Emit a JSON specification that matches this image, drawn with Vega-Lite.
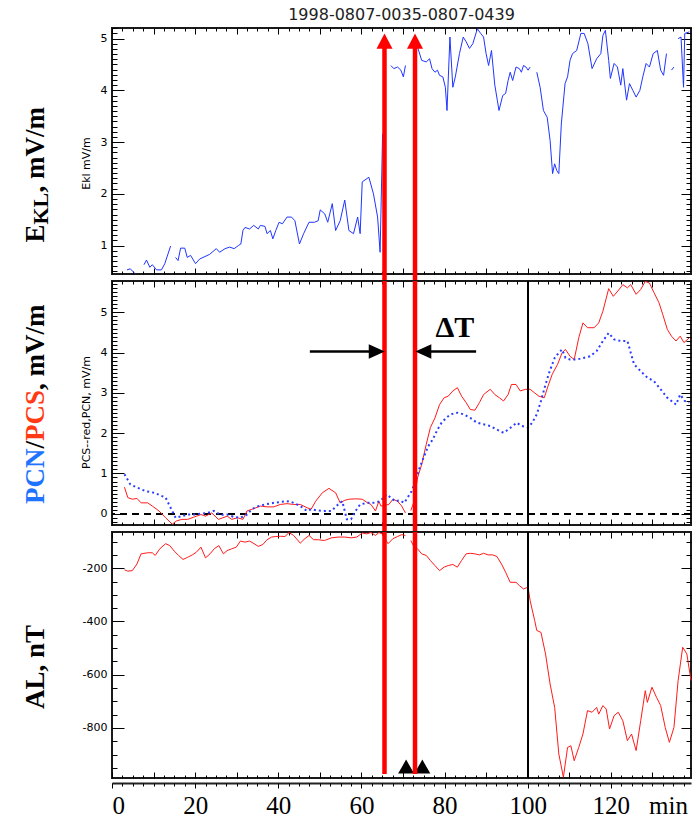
{
"$schema": "https://vega.github.io/schema/vega-lite/v6.json",
"background": "white",
"padding": {"left": 19, "top": 5, "right": 0, "bottom": 0},
"autosize": {"type": "pad"},
"spacing": 7,
"bounds": "flush",
"config": {
  "view": {"stroke": "#1a1a1a", "strokeWidth": 2},
  "axis": {"grid": false, "domain": false, "tickColor": "#000", "tickWidth": 1, "labelColor": "#000", "titleColor": "#000", "labelFont": "DejaVu Sans", "labelFontSize": 11}
},
"datasets": {
  "ekl": [
    {"t":3.6,"v":0.53,"seg":1},{"t":4.4,"v":0.55,"seg":1},{"t":5.5,"v":0.46,"seg":1},
    {"t":7.7,"v":0.63,"seg":2},{"t":8.3,"v":0.72,"seg":2},{"t":9.1,"v":0.58,"seg":2},{"t":9.7,"v":0.63,"seg":2},{"t":10.7,"v":0.53,"seg":2},{"t":11.9,"v":0.53,"seg":2},{"t":12.7,"v":0.65,"seg":2},{"t":14.1,"v":0.99,"seg":2},
    {"t":15.3,"v":0.77,"seg":3},{"t":15.9,"v":0.71,"seg":3},{"t":16.5,"v":0.95,"seg":3},{"t":17.5,"v":0.95,"seg":3},{"t":18.1,"v":0.77,"seg":3},{"t":18.9,"v":0.81,"seg":3},{"t":20.1,"v":0.65,"seg":3},{"t":21.1,"v":0.74,"seg":3},{"t":23.5,"v":0.83,"seg":3},{"t":25.1,"v":0.94,"seg":3},{"t":25.9,"v":0.87,"seg":3},{"t":27.2,"v":0.94,"seg":3},{"t":28.3,"v":0.97,"seg":3},{"t":29.4,"v":0.94,"seg":3},{"t":30.4,"v":1.0,"seg":3},{"t":31.0,"v":1.03,"seg":3},{"t":31.5,"v":1.29,"seg":3},{"t":32.0,"v":1.35,"seg":3},{"t":33.1,"v":1.32,"seg":3},{"t":34.1,"v":1.39,"seg":3},{"t":35.2,"v":1.32,"seg":3},{"t":35.7,"v":1.39,"seg":3},{"t":36.8,"v":1.37,"seg":3},{"t":37.3,"v":1.23,"seg":3},{"t":38.1,"v":1.29,"seg":3},{"t":38.7,"v":1.13,"seg":3},{"t":39.4,"v":1.29,"seg":3},{"t":40.2,"v":1.45,"seg":3},{"t":41.0,"v":1.42,"seg":3},{"t":42.1,"v":1.55,"seg":3},{"t":43.2,"v":1.55,"seg":3},{"t":44.0,"v":1.48,"seg":3},{"t":45.1,"v":1.03,"seg":3},{"t":46.1,"v":1.23,"seg":3},{"t":47.4,"v":1.45,"seg":3},{"t":48.7,"v":1.45,"seg":3},{"t":49.6,"v":1.48,"seg":3},{"t":50.1,"v":1.69,"seg":3},{"t":51.2,"v":1.61,"seg":3},{"t":51.9,"v":1.45,"seg":3},{"t":53.0,"v":1.81,"seg":3},{"t":53.8,"v":1.29,"seg":3},{"t":54.9,"v":1.48,"seg":3},{"t":56.0,"v":1.88,"seg":3},{"t":57.0,"v":1.29,"seg":3},{"t":58.1,"v":1.23,"seg":3},{"t":59.1,"v":1.55,"seg":3},{"t":59.7,"v":1.23,"seg":3},{"t":60.2,"v":2.23,"seg":3},{"t":61.8,"v":2.32,"seg":3},{"t":62.9,"v":2.0,"seg":3},{"t":63.9,"v":1.55,"seg":3},{"t":64.5,"v":0.87,"seg":3},{"t":64.7,"v":1.61,"seg":3},{"t":65.1,"v":3.16,"seg":3},
    {"t":67.1,"v":4.48,"seg":4},{"t":67.8,"v":4.42,"seg":4},{"t":68.7,"v":4.45,"seg":4},{"t":69.5,"v":4.39,"seg":4},{"t":70.1,"v":4.26,"seg":4},{"t":70.6,"v":4.48,"seg":4},
    {"t":73.5,"v":4.84,"seg":5},{"t":74.5,"v":4.58,"seg":5},{"t":75.6,"v":4.55,"seg":5},{"t":76.4,"v":4.61,"seg":5},{"t":77.0,"v":4.42,"seg":5},{"t":77.7,"v":4.35,"seg":5},{"t":78.3,"v":4.39,"seg":5},{"t":78.8,"v":4.29,"seg":5},{"t":79.6,"v":4.26,"seg":5},{"t":80.2,"v":4.06,"seg":5},{"t":80.6,"v":3.61,"seg":5},{"t":81.3,"v":5.03,"seg":5},{"t":82.0,"v":4.06,"seg":5},{"t":82.6,"v":4.26,"seg":5},{"t":83.6,"v":4.71,"seg":5},{"t":84.5,"v":5.03,"seg":5},{"t":85.2,"v":4.94,"seg":5},{"t":86.0,"v":4.81,"seg":5},{"t":86.8,"v":4.9,"seg":5},{"t":87.9,"v":5.19,"seg":5},{"t":88.7,"v":5.1,"seg":5},{"t":89.4,"v":5.03,"seg":5},{"t":90.0,"v":4.71,"seg":5},{"t":90.6,"v":4.48,"seg":5},{"t":91.3,"v":4.77,"seg":5},{"t":92.1,"v":4.1,"seg":5},{"t":92.7,"v":3.81,"seg":5},{"t":93.1,"v":3.61,"seg":5},{"t":94.0,"v":3.9,"seg":5},{"t":94.7,"v":3.94,"seg":5},{"t":95.3,"v":4.19,"seg":5},{"t":95.8,"v":4.35,"seg":5},{"t":96.4,"v":4.19,"seg":5},{"t":97.2,"v":4.45,"seg":5},{"t":98.0,"v":4.42,"seg":5},{"t":98.5,"v":4.35,"seg":5},{"t":99.0,"v":4.48,"seg":5},{"t":99.6,"v":4.45,"seg":5},{"t":100.1,"v":4.39,"seg":5},{"t":100.6,"v":4.45,"seg":5},
    {"t":102.2,"v":4.35,"seg":6},{"t":103.0,"v":4.06,"seg":6},{"t":103.8,"v":3.61,"seg":6},{"t":104.7,"v":3.48,"seg":6},{"t":105.4,"v":3.03,"seg":6},{"t":106.0,"v":2.39,"seg":6},{"t":106.5,"v":2.58,"seg":6},{"t":107.0,"v":2.45,"seg":6},{"t":107.5,"v":2.39,"seg":6},{"t":108.1,"v":3.35,"seg":6},{"t":109.0,"v":4.13,"seg":6},{"t":109.6,"v":4.26,"seg":6},{"t":110.2,"v":4.58,"seg":6},{"t":110.8,"v":4.71,"seg":6},{"t":111.8,"v":4.77,"seg":6},{"t":112.8,"v":5.1,"seg":6},{"t":113.6,"v":5.1,"seg":6},{"t":114.5,"v":4.9,"seg":6},{"t":115.5,"v":4.42,"seg":6},{"t":116.6,"v":4.61,"seg":6},{"t":117.6,"v":4.71,"seg":6},{"t":118.1,"v":5.06,"seg":6},{"t":118.7,"v":5.16,"seg":6},{"t":119.5,"v":4.58,"seg":6},{"t":119.9,"v":4.23,"seg":6},{"t":120.8,"v":4.52,"seg":6},{"t":121.6,"v":4.45,"seg":6},{"t":122.4,"v":4.1,"seg":6},{"t":122.9,"v":4.42,"seg":6},{"t":123.8,"v":3.81,"seg":6},{"t":124.5,"v":4.13,"seg":6},{"t":125.3,"v":4.0,"seg":6},{"t":126.1,"v":3.87,"seg":6},{"t":127.0,"v":4.0,"seg":6},{"t":127.7,"v":4.26,"seg":6},{"t":128.5,"v":4.52,"seg":6},{"t":129.3,"v":4.45,"seg":6},{"t":130.2,"v":4.71,"seg":6},{"t":131.2,"v":4.77,"seg":6},{"t":132.0,"v":4.39,"seg":6},{"t":132.7,"v":4.29,"seg":6},{"t":133.4,"v":4.71,"seg":6},
    {"t":134.6,"v":4.39,"seg":7},{"t":135.2,"v":4.45,"seg":7},
    {"t":136.2,"v":5.0,"seg":8},{"t":136.9,"v":5.03,"seg":8},{"t":137.5,"v":4.06,"seg":8},{"t":137.8,"v":5.1,"seg":8},{"t":138.9,"v":5.13,"seg":8}
  ],
  "pcs": [
    {"t":3.0,"v":0.66,"seg":1},{"t":3.8,"v":0.4,"seg":1},{"t":4.9,"v":0.36,"seg":1},{"t":6.0,"v":0.38,"seg":1},{"t":7.0,"v":0.27,"seg":1},{"t":8.6,"v":0.27,"seg":1},{"t":9.7,"v":0.19,"seg":1},{"t":11.3,"v":0.07,"seg":1},{"t":12.9,"v":-0.1,"seg":1},{"t":14.5,"v":-0.26,"seg":1},{"t":15.5,"v":-0.18,"seg":1},{"t":16.8,"v":-0.14,"seg":1},{"t":18.2,"v":-0.14,"seg":1},{"t":19.8,"v":-0.08,"seg":1},{"t":21.4,"v":-0.02,"seg":1},{"t":22.5,"v":-0.06,"seg":1},{"t":24.0,"v":0.02,"seg":1},{"t":25.6,"v":-0.14,"seg":1},{"t":26.7,"v":-0.1,"seg":1},{"t":27.7,"v":-0.06,"seg":1},{"t":28.8,"v":-0.14,"seg":1},{"t":30.2,"v":-0.1,"seg":1},{"t":31.5,"v":-0.14,"seg":1},{"t":32.5,"v":0.07,"seg":1},{"t":34.2,"v":0.13,"seg":1},{"t":35.7,"v":0.19,"seg":1},{"t":37.3,"v":0.17,"seg":1},{"t":38.9,"v":0.17,"seg":1},{"t":40.5,"v":0.23,"seg":1},{"t":42.1,"v":0.25,"seg":1},{"t":43.7,"v":0.23,"seg":1},{"t":45.3,"v":0.23,"seg":1},{"t":46.9,"v":0.15,"seg":1},{"t":47.9,"v":0.11,"seg":1},{"t":49.0,"v":0.31,"seg":1},{"t":50.6,"v":0.52,"seg":1},{"t":52.2,"v":0.63,"seg":1},{"t":53.8,"v":0.52,"seg":1},{"t":54.9,"v":0.27,"seg":1},{"t":55.9,"v":0.33,"seg":1},{"t":57.0,"v":0.36,"seg":1},{"t":58.6,"v":0.37,"seg":1},{"t":60.2,"v":0.36,"seg":1},{"t":61.5,"v":0.27,"seg":1},{"t":62.3,"v":0.23,"seg":1},{"t":63.4,"v":0.07,"seg":1},{"t":64.2,"v":0.31,"seg":1},{"t":64.7,"v":0.19,"seg":1},{"t":66.6,"v":0.23,"seg":1},{"t":67.6,"v":0.36,"seg":1},{"t":68.7,"v":0.31,"seg":1},{"t":69.7,"v":0.19,"seg":1},{"t":70.6,"v":0.02,"seg":1},
    {"t":71.9,"v":0.08,"seg":2},{"t":72.7,"v":0.31,"seg":2},{"t":73.5,"v":0.89,"seg":2},{"t":74.5,"v":1.22,"seg":2},{"t":75.6,"v":1.72,"seg":2},{"t":76.6,"v":2.14,"seg":2},{"t":77.7,"v":2.38,"seg":2},{"t":78.8,"v":2.71,"seg":2},{"t":79.9,"v":2.88,"seg":2},{"t":80.9,"v":2.92,"seg":2},{"t":82.0,"v":3.05,"seg":2},{"t":83.1,"v":3.13,"seg":2},{"t":84.1,"v":2.92,"seg":2},{"t":85.2,"v":2.76,"seg":2},{"t":86.2,"v":2.59,"seg":2},{"t":87.3,"v":2.57,"seg":2},{"t":88.4,"v":2.76,"seg":2},{"t":89.4,"v":2.96,"seg":2},{"t":91.0,"v":3.09,"seg":2},{"t":92.1,"v":2.96,"seg":2},{"t":93.2,"v":2.88,"seg":2},{"t":94.2,"v":2.8,"seg":2},{"t":95.3,"v":2.96,"seg":2},{"t":96.1,"v":3.21,"seg":2},{"t":97.2,"v":3.21,"seg":2},{"t":98.2,"v":3.05,"seg":2},{"t":99.5,"v":3.09,"seg":2},{"t":100.6,"v":3.09,"seg":2},{"t":101.7,"v":3.0,"seg":2},{"t":102.7,"v":2.92,"seg":2},{"t":104.0,"v":2.88,"seg":2},{"t":104.9,"v":3.17,"seg":2},{"t":105.9,"v":3.46,"seg":2},{"t":107.2,"v":3.71,"seg":2},{"t":108.3,"v":4.0,"seg":2},{"t":109.1,"v":4.08,"seg":2},{"t":110.2,"v":3.91,"seg":2},{"t":111.2,"v":3.83,"seg":2},{"t":112.3,"v":4.37,"seg":2},{"t":113.3,"v":4.74,"seg":2},{"t":114.4,"v":4.62,"seg":2},{"t":116.0,"v":4.62,"seg":2},{"t":117.1,"v":4.74,"seg":2},{"t":118.1,"v":5.03,"seg":2},{"t":119.5,"v":5.59,"seg":2},{"t":120.6,"v":5.4,"seg":2},{"t":121.7,"v":5.53,"seg":2},{"t":122.9,"v":5.69,"seg":2},{"t":124.0,"v":5.61,"seg":2},{"t":124.8,"v":5.69,"seg":2},{"t":126.1,"v":5.45,"seg":2},{"t":127.2,"v":5.57,"seg":2},{"t":128.3,"v":5.77,"seg":2},{"t":129.3,"v":5.73,"seg":2},{"t":130.4,"v":5.49,"seg":2},{"t":131.6,"v":5.24,"seg":2},{"t":132.5,"v":4.95,"seg":2},{"t":133.6,"v":4.58,"seg":2},{"t":134.6,"v":4.41,"seg":2},{"t":135.7,"v":4.29,"seg":2},{"t":136.7,"v":4.41,"seg":2},{"t":137.6,"v":4.25,"seg":2},{"t":138.9,"v":4.37,"seg":2}
  ],
  "pcn": [
    {"t":3.0,"v":0.98},{"t":4.4,"v":0.73},{"t":6.0,"v":0.65},{"t":8.1,"v":0.56},{"t":10.2,"v":0.52},{"t":12.9,"v":0.4},{"t":13.9,"v":0.19},{"t":15.3,"v":-0.1},{"t":16.8,"v":-0.06},{"t":18.2,"v":-0.02},{"t":19.8,"v":-0.02},{"t":21.4,"v":0.0},{"t":23.0,"v":0.02},{"t":24.5,"v":0.07},{"t":26.1,"v":-0.03},{"t":27.7,"v":-0.02},{"t":29.3,"v":-0.08},{"t":30.9,"v":-0.1},{"t":32.5,"v":-0.02},{"t":33.6,"v":0.11},{"t":35.2,"v":0.19},{"t":36.8,"v":0.23},{"t":38.9,"v":0.27},{"t":41.0,"v":0.3},{"t":42.6,"v":0.31},{"t":43.7,"v":0.27},{"t":45.3,"v":0.19},{"t":46.9,"v":0.07},{"t":47.9,"v":0.11},{"t":49.5,"v":0.08},{"t":51.1,"v":0.07},{"t":52.8,"v":0.07},{"t":54.4,"v":0.23},{"t":55.4,"v":0.31},{"t":56.5,"v":-0.14},{"t":57.5,"v":-0.14},{"t":58.6,"v":0.07},{"t":59.7,"v":0.23},{"t":61.3,"v":0.27},{"t":62.9,"v":0.27},{"t":64.5,"v":0.31},{"t":66.0,"v":0.48},{"t":67.1,"v":0.4},{"t":68.1,"v":0.31},{"t":69.2,"v":0.33},{"t":70.3,"v":0.27},{"t":72.1,"v":0.56},{"t":73.0,"v":0.81},{"t":74.0,"v":1.14},{"t":75.1,"v":1.43},{"t":76.1,"v":1.68},{"t":77.2,"v":1.85},{"t":78.3,"v":2.09},{"t":79.3,"v":2.26},{"t":80.4,"v":2.38},{"t":81.5,"v":2.47},{"t":83.1,"v":2.51},{"t":84.6,"v":2.47},{"t":86.2,"v":2.38},{"t":87.8,"v":2.26},{"t":89.4,"v":2.22},{"t":91.0,"v":2.18},{"t":92.6,"v":2.09},{"t":94.2,"v":2.01},{"t":95.3,"v":2.09},{"t":96.4,"v":2.18},{"t":97.4,"v":2.26},{"t":98.5,"v":2.18},{"t":100.1,"v":2.14},{"t":101.1,"v":2.26},{"t":102.2,"v":2.47},{"t":103.2,"v":2.8},{"t":104.3,"v":3.21},{"t":105.3,"v":3.54},{"t":106.5,"v":3.87},{"t":107.5,"v":4.0},{"t":108.3,"v":4.08},{"t":109.1,"v":3.87},{"t":110.2,"v":3.83},{"t":111.8,"v":3.83},{"t":113.4,"v":3.87},{"t":115.0,"v":3.91},{"t":116.6,"v":4.04},{"t":118.1,"v":4.29},{"t":119.5,"v":4.49},{"t":120.8,"v":4.33},{"t":122.4,"v":4.29},{"t":124.0,"v":4.29},{"t":125.6,"v":3.71},{"t":127.2,"v":3.54},{"t":128.8,"v":3.38},{"t":130.4,"v":3.29},{"t":132.0,"v":3.09},{"t":133.6,"v":2.88},{"t":134.6,"v":2.8},{"t":135.7,"v":2.71},{"t":136.7,"v":2.96},{"t":137.8,"v":2.8},{"t":138.9,"v":2.76}
  ],
  "al": [
    {"t":3.0,"v":-206,"seg":1},{"t":3.8,"v":-211,"seg":1},{"t":4.9,"v":-209,"seg":1},{"t":6.0,"v":-184,"seg":1},{"t":7.0,"v":-146,"seg":1},{"t":8.6,"v":-142,"seg":1},{"t":9.7,"v":-142,"seg":1},{"t":10.4,"v":-152,"seg":1},{"t":11.5,"v":-127,"seg":1},{"t":12.9,"v":-108,"seg":1},{"t":13.9,"v":-115,"seg":1},{"t":15.0,"v":-136,"seg":1},{"t":16.0,"v":-152,"seg":1},{"t":17.1,"v":-167,"seg":1},{"t":18.2,"v":-159,"seg":1},{"t":19.3,"v":-150,"seg":1},{"t":20.3,"v":-140,"seg":1},{"t":21.4,"v":-121,"seg":1},{"t":22.5,"v":-161,"seg":1},{"t":23.6,"v":-146,"seg":1},{"t":24.6,"v":-127,"seg":1},{"t":25.7,"v":-115,"seg":1},{"t":26.8,"v":-146,"seg":1},{"t":27.7,"v":-134,"seg":1},{"t":28.8,"v":-127,"seg":1},{"t":29.9,"v":-121,"seg":1},{"t":30.9,"v":-98,"seg":1},{"t":32.0,"v":-102,"seg":1},{"t":33.1,"v":-98,"seg":1},{"t":34.2,"v":-108,"seg":1},{"t":35.2,"v":-118,"seg":1},{"t":36.3,"v":-111,"seg":1},{"t":37.3,"v":-93,"seg":1},{"t":38.4,"v":-83,"seg":1},{"t":39.4,"v":-81,"seg":1},{"t":40.5,"v":-80,"seg":1},{"t":41.6,"v":-81,"seg":1},{"t":42.6,"v":-66,"seg":1},{"t":43.7,"v":-77,"seg":1},{"t":45.3,"v":-106,"seg":1},{"t":46.4,"v":-89,"seg":1},{"t":47.4,"v":-77,"seg":1},{"t":48.5,"v":-93,"seg":1},{"t":49.6,"v":-93,"seg":1},{"t":51.1,"v":-96,"seg":1},{"t":52.8,"v":-86,"seg":1},{"t":54.4,"v":-83,"seg":1},{"t":56.0,"v":-83,"seg":1},{"t":57.6,"v":-86,"seg":1},{"t":58.9,"v":-83,"seg":1},{"t":60.2,"v":-68,"seg":1},{"t":61.3,"v":-71,"seg":1},{"t":62.3,"v":-66,"seg":1},{"t":63.4,"v":-77,"seg":1},{"t":64.2,"v":-66,"seg":1},{"t":65.0,"v":-71,"seg":1},{"t":66.4,"v":-108,"seg":1},{"t":67.6,"v":-89,"seg":1},{"t":68.7,"v":-81,"seg":1},{"t":69.7,"v":-74,"seg":1},{"t":70.6,"v":-77,"seg":1},
    {"t":71.9,"v":-96,"seg":2},{"t":72.7,"v":-121,"seg":2},{"t":73.5,"v":-127,"seg":2},{"t":74.5,"v":-146,"seg":2},{"t":75.6,"v":-152,"seg":2},{"t":76.6,"v":-171,"seg":2},{"t":77.7,"v":-190,"seg":2},{"t":78.8,"v":-209,"seg":2},{"t":79.9,"v":-196,"seg":2},{"t":80.9,"v":-190,"seg":2},{"t":82.0,"v":-186,"seg":2},{"t":83.1,"v":-196,"seg":2},{"t":84.1,"v":-171,"seg":2},{"t":85.2,"v":-146,"seg":2},{"t":86.2,"v":-144,"seg":2},{"t":87.3,"v":-146,"seg":2},{"t":88.4,"v":-150,"seg":2},{"t":89.4,"v":-144,"seg":2},{"t":90.5,"v":-150,"seg":2},{"t":91.6,"v":-150,"seg":2},{"t":92.6,"v":-156,"seg":2},{"t":93.7,"v":-184,"seg":2},{"t":94.7,"v":-215,"seg":2},{"t":95.8,"v":-253,"seg":2},{"t":97.2,"v":-253,"seg":2},{"t":98.0,"v":-265,"seg":2},{"t":99.0,"v":-278,"seg":2},{"t":100.1,"v":-271,"seg":2},{"t":100.6,"v":-322,"seg":2},{"t":101.7,"v":-397,"seg":2},{"t":102.2,"v":-434,"seg":2},{"t":103.2,"v":-441,"seg":2},{"t":104.3,"v":-522,"seg":2},{"t":105.4,"v":-635,"seg":2},{"t":106.5,"v":-723,"seg":2},{"t":107.5,"v":-898,"seg":2},{"t":108.6,"v":-985,"seg":2},{"t":109.6,"v":-873,"seg":2},{"t":110.4,"v":-867,"seg":2},{"t":111.2,"v":-923,"seg":2},{"t":112.3,"v":-873,"seg":2},{"t":113.3,"v":-823,"seg":2},{"t":114.4,"v":-735,"seg":2},{"t":115.5,"v":-741,"seg":2},{"t":116.6,"v":-723,"seg":2},{"t":117.1,"v":-748,"seg":2},{"t":118.1,"v":-716,"seg":2},{"t":118.9,"v":-729,"seg":2},{"t":119.7,"v":-804,"seg":2},{"t":120.8,"v":-754,"seg":2},{"t":121.8,"v":-741,"seg":2},{"t":122.9,"v":-773,"seg":2},{"t":124.0,"v":-848,"seg":2},{"t":125.0,"v":-823,"seg":2},{"t":126.1,"v":-885,"seg":2},{"t":127.2,"v":-773,"seg":2},{"t":128.3,"v":-660,"seg":2},{"t":128.8,"v":-704,"seg":2},{"t":129.9,"v":-647,"seg":2},{"t":131.0,"v":-685,"seg":2},{"t":132.0,"v":-716,"seg":2},{"t":133.1,"v":-798,"seg":2},{"t":134.1,"v":-854,"seg":2},{"t":135.2,"v":-798,"seg":2},{"t":136.2,"v":-622,"seg":2},{"t":137.3,"v":-497,"seg":2},{"t":138.3,"v":-522,"seg":2},{"t":139.3,"v":-622,"seg":2}
  ],
  "redlines": [{"t":65.56},{"t":72.9}],
  "heads": [{"t":65.56,"v":4.952},{"t":72.9,"v":4.952}],
  "harrows": [{"t":47.6,"t2":63.5,"v":4.03},{"t":87.6,"t2":75.0,"v":4.03}],
  "hheads": [{"t":63.7,"v":4.03,"dir":"right"},{"t":74.9,"v":4.03,"dir":"left"}],
  "dt": [{"t":82.5,"v":4.62,"label":"ΔT"}],
  "tri": [{"t":70.76,"v":-945},{"t":74.66,"v":-945}]
},
"vconcat": [
{
  "width": 579, "height": 246,
  "title": {"text": "1998-0807-0035-0807-0439", "font": "DejaVu Sans", "fontSize": 16, "fontWeight": "normal", "color": "#222", "anchor": "middle", "frame": "group", "offset": 4},
  "resolve": {"axis": {"x": "independent", "y": "independent"}},
  "layer": [
    {"data": {"name": "ekl"}, "mark": {"type": "line", "color": "#2035ff", "strokeWidth": 1},
     "encoding": {
       "x": {"field": "t", "type": "quantitative", "scale": {"domain": [0, 139.3], "nice": false, "zero": false}, "axis": {"orient": "bottom", "values": [0,10,20,30,40,50,60,70,80,90,100,110,120,130], "tickSize": -6, "labels": false, "title": null}},
       "y": {"field": "v", "type": "quantitative", "scale": {"domain": [0.45, 5.205], "nice": false, "zero": false}, "axis": {"orient": "left", "values": [1,2,3,4,5], "tickSize": -12, "labelPadding": 17, "title": "Ekl mV/m", "titleFont": "DejaVu Sans", "titleFontSize": 11, "titleFontWeight": "normal", "titleAngle": -90, "titleAlign": "center", "titleBaseline": "alphabetic", "titleX": -23, "titleY": 135}},
       "detail": {"field": "seg"}
     }},
    {"data": {"name": "ekl"}, "mark": {"type": "line", "opacity": 0},
     "encoding": {
       "x": {"field": "t", "type": "quantitative", "axis": {"orient": "bottom", "values": [0,2.5,5,7.5,10,12.5,15,17.5,20,22.5,25,27.5,30,32.5,35,37.5,40,42.5,45,47.5,50,52.5,55,57.5,60,62.5,65,67.5,70,72.5,75,77.5,80,82.5,85,87.5,90,92.5,95,97.5,100,102.5,105,107.5,110,112.5,115,117.5,120,122.5,125,127.5,130,132.5,135,137.5], "tickSize": -3, "labels": false, "title": null}},
       "y": {"field": "v", "type": "quantitative", "axis": {"orient": "left", "values": [0.5,0.6,0.7,0.8,0.9,1,1.1,1.2,1.3,1.4,1.5,1.6,1.7,1.8,1.9,2,2.1,2.2,2.3,2.4,2.5,2.6,2.7,2.8,2.9,3,3.1,3.2,3.3,3.4,3.5,3.6,3.7,3.8,3.9,4,4.1,4.2,4.3,4.4,4.5,4.6,4.7,4.8,4.9,5,5.1,5.2], "tickSize": -5, "labels": false, "title": null}}
     }},
    {"data": {"name": "ekl"}, "mark": {"type": "line", "opacity": 0},
     "encoding": {
       "x": {"field": "t", "type": "quantitative", "axis": {"orient": "top", "values": [0,10,20,30,40,50,60,70,80,90,100,110,120,130], "tickSize": -6, "labels": false, "title": null}},
       "y": {"field": "v", "type": "quantitative", "axis": {"orient": "right", "values": [1,2,3,4,5], "tickSize": -10, "labels": false, "title": null}}
     }},
    {"data": {"name": "ekl"}, "mark": {"type": "line", "opacity": 0},
     "encoding": {
       "x": {"field": "t", "type": "quantitative", "axis": {"orient": "top", "values": [0,2.5,5,7.5,10,12.5,15,17.5,20,22.5,25,27.5,30,32.5,35,37.5,40,42.5,45,47.5,50,52.5,55,57.5,60,62.5,65,67.5,70,72.5,75,77.5,80,82.5,85,87.5,90,92.5,95,97.5,100,102.5,105,107.5,110,112.5,115,117.5,120,122.5,125,127.5,130,132.5,135,137.5], "tickSize": -3, "labels": false, "title": null}},
       "y": {"field": "v", "type": "quantitative", "axis": {"orient": "right", "values": [0.5,0.6,0.7,0.8,0.9,1,1.1,1.2,1.3,1.4,1.5,1.6,1.7,1.8,1.9,2,2.1,2.2,2.3,2.4,2.5,2.6,2.7,2.8,2.9,3,3.1,3.2,3.3,3.4,3.5,3.6,3.7,3.8,3.9,4,4.1,4.2,4.3,4.4,4.5,4.6,4.7,4.8,4.9,5,5.1,5.2], "tickSize": -5, "labels": false, "title": null}}
     }},
    {"data": {"name": "ekl"}, "mark": {"type": "line", "opacity": 0},
     "encoding": {
       "x": {"field": "t", "type": "quantitative", "axis": null},
       "y": {"field": "v", "type": "quantitative", "axis": {"orient": "left", "labels": false, "ticks": false, "title": "E", "titleFont": "Liberation Serif", "titleFontSize": 27, "titleFontWeight": "bold", "titleAngle": -90, "titleAlign": "left", "titleBaseline": "alphabetic", "titleX": -69, "titleY": 214}}
     }},
    {"data": {"name": "ekl"}, "mark": {"type": "line", "opacity": 0},
     "encoding": {
       "x": {"field": "t", "type": "quantitative", "axis": null},
       "y": {"field": "v", "type": "quantitative", "axis": {"orient": "left", "labels": false, "ticks": false, "title": "KL", "titleFont": "Liberation Serif", "titleFontSize": 22, "titleFontWeight": "bold", "titleAngle": -90, "titleAlign": "left", "titleBaseline": "alphabetic", "titleX": -65, "titleY": 196}}
     }},
    {"data": {"name": "ekl"}, "mark": {"type": "line", "opacity": 0},
     "encoding": {
       "x": {"field": "t", "type": "quantitative", "axis": null},
       "y": {"field": "v", "type": "quantitative", "axis": {"orient": "left", "labels": false, "ticks": false, "title": ", mV/m", "titleFont": "Liberation Serif", "titleFontSize": 27, "titleFontWeight": "bold", "titleAngle": -90, "titleAlign": "left", "titleBaseline": "alphabetic", "titleX": -69, "titleY": 164}}
     }},
    {"data": {"name": "redlines"}, "mark": {"type": "rule", "color": "#ff0000", "strokeWidth": 4.5},
     "encoding": {
       "x": {"field": "t", "type": "quantitative", "axis": null},
       "y": {"datum": 4.85, "axis": null},
       "y2": {"datum": 0.3}
     }},
    {"data": {"name": "heads"}, "mark": {"type": "point", "filled": true, "opacity": 1, "color": "#ff0000", "shape": "M0,-0.95L1,0.95L-1,0.95Z", "size": 256, "strokeWidth": 0},
     "encoding": {
       "x": {"field": "t", "type": "quantitative", "axis": null},
       "y": {"field": "v", "type": "quantitative", "axis": null}
     }}
  ]
},
{
  "width": 579, "height": 244,
  "resolve": {"axis": {"x": "independent", "y": "independent"}},
  "layer": [
    {"data": {"name": "pcs"}, "mark": {"type": "rule", "color": "#000", "strokeWidth": 1.3, "strokeDash": [7, 5]},
     "encoding": {
       "y": {"datum": 0, "type": "quantitative", "scale": {"domain": [-0.28, 5.78], "nice": false, "zero": false}, "axis": null}
     }},
    {"data": {"name": "pcs"}, "mark": {"type": "line", "color": "#ff1a1a", "strokeWidth": 1},
     "encoding": {
       "x": {"field": "t", "type": "quantitative", "scale": {"domain": [0, 139.3], "nice": false, "zero": false}, "axis": {"orient": "bottom", "values": [0,10,20,30,40,50,60,70,80,90,100,110,120,130], "tickSize": -6, "labels": false, "title": null}},
       "y": {"field": "v", "type": "quantitative", "scale": {"domain": [-0.28, 5.78], "nice": false, "zero": false}, "axis": {"orient": "left", "values": [0,1,2,3,4,5], "tickSize": -12, "labelPadding": 17, "title": "PCS--red,PCN,  mV/m", "titleFont": "DejaVu Sans", "titleFontSize": 11, "titleFontWeight": "normal", "titleAngle": -90, "titleAlign": "center", "titleBaseline": "alphabetic", "titleX": -23, "titleY": 131}},
       "detail": {"field": "seg"}
     }},
    {"data": {"name": "pcn"}, "mark": {"type": "line", "color": "#2a3cff", "strokeWidth": 2, "strokeDash": [2, 3]},
     "encoding": {
       "x": {"field": "t", "type": "quantitative", "axis": {"orient": "bottom", "values": [0,2.5,5,7.5,10,12.5,15,17.5,20,22.5,25,27.5,30,32.5,35,37.5,40,42.5,45,47.5,50,52.5,55,57.5,60,62.5,65,67.5,70,72.5,75,77.5,80,82.5,85,87.5,90,92.5,95,97.5,100,102.5,105,107.5,110,112.5,115,117.5,120,122.5,125,127.5,130,132.5,135,137.5], "tickSize": -3, "labels": false, "title": null}},
       "y": {"field": "v", "type": "quantitative", "axis": {"orient": "left", "values": [-0.2,-0.1,0,0.1,0.2,0.3,0.4,0.5,0.6,0.7,0.8,0.9,1,1.1,1.2,1.3,1.4,1.5,1.6,1.7,1.8,1.9,2,2.1,2.2,2.3,2.4,2.5,2.6,2.7,2.8,2.9,3,3.1,3.2,3.3,3.4,3.5,3.6,3.7,3.8,3.9,4,4.1,4.2,4.3,4.4,4.5,4.6,4.7,4.8,4.9,5,5.1,5.2,5.3,5.4,5.5,5.6,5.7], "tickSize": -5, "labels": false, "title": null}}
     }},
    {"data": {"name": "pcs"}, "mark": {"type": "line", "opacity": 0},
     "encoding": {
       "x": {"field": "t", "type": "quantitative", "axis": {"orient": "top", "values": [0,10,20,30,40,50,60,70,80,90,100,110,120,130], "tickSize": -6, "labels": false, "title": null}},
       "y": {"field": "v", "type": "quantitative", "axis": {"orient": "right", "values": [0,1,2,3,4,5], "tickSize": -10, "labels": false, "title": null}}
     }},
    {"data": {"name": "pcs"}, "mark": {"type": "line", "opacity": 0},
     "encoding": {
       "x": {"field": "t", "type": "quantitative", "axis": {"orient": "top", "values": [0,2.5,5,7.5,10,12.5,15,17.5,20,22.5,25,27.5,30,32.5,35,37.5,40,42.5,45,47.5,50,52.5,55,57.5,60,62.5,65,67.5,70,72.5,75,77.5,80,82.5,85,87.5,90,92.5,95,97.5,100,102.5,105,107.5,110,112.5,115,117.5,120,122.5,125,127.5,130,132.5,135,137.5], "tickSize": -3, "labels": false, "title": null}},
       "y": {"field": "v", "type": "quantitative", "axis": {"orient": "right", "values": [-0.2,-0.1,0,0.1,0.2,0.3,0.4,0.5,0.6,0.7,0.8,0.9,1,1.1,1.2,1.3,1.4,1.5,1.6,1.7,1.8,1.9,2,2.1,2.2,2.3,2.4,2.5,2.6,2.7,2.8,2.9,3,3.1,3.2,3.3,3.4,3.5,3.6,3.7,3.8,3.9,4,4.1,4.2,4.3,4.4,4.5,4.6,4.7,4.8,4.9,5,5.1,5.2,5.3,5.4,5.5,5.6,5.7], "tickSize": -5, "labels": false, "title": null}}
     }},
    {"data": {"name": "pcs"}, "mark": {"type": "line", "opacity": 0},
     "encoding": {
       "x": {"field": "t", "type": "quantitative", "axis": null},
       "y": {"field": "v", "type": "quantitative", "axis": {"orient": "left", "labels": false, "ticks": false, "title": "PCN", "titleFont": "Liberation Serif", "titleFontSize": 27, "titleFontWeight": "bold", "titleColor": "#1f74ff", "titleAngle": -90, "titleAlign": "left", "titleBaseline": "alphabetic", "titleX": -69, "titleY": 222.6}}
     }},
    {"data": {"name": "pcs"}, "mark": {"type": "line", "opacity": 0},
     "encoding": {
       "x": {"field": "t", "type": "quantitative", "axis": null},
       "y": {"field": "v", "type": "quantitative", "axis": {"orient": "left", "labels": false, "ticks": false, "title": "/", "titleFont": "Liberation Serif", "titleFontSize": 27, "titleFontWeight": "bold", "titleAngle": -90, "titleAlign": "left", "titleBaseline": "alphabetic", "titleX": -69, "titleY": 167.1}}
     }},
    {"data": {"name": "pcs"}, "mark": {"type": "line", "opacity": 0},
     "encoding": {
       "x": {"field": "t", "type": "quantitative", "axis": null},
       "y": {"field": "v", "type": "quantitative", "axis": {"orient": "left", "labels": false, "ticks": false, "title": "PCS", "titleFont": "Liberation Serif", "titleFontSize": 27, "titleFontWeight": "bold", "titleColor": "#ff3a14", "titleAngle": -90, "titleAlign": "left", "titleBaseline": "alphabetic", "titleX": -69, "titleY": 159.6}}
     }},
    {"data": {"name": "pcs"}, "mark": {"type": "line", "opacity": 0},
     "encoding": {
       "x": {"field": "t", "type": "quantitative", "axis": null},
       "y": {"field": "v", "type": "quantitative", "axis": {"orient": "left", "labels": false, "ticks": false, "title": ", mV/m", "titleFont": "Liberation Serif", "titleFontSize": 27, "titleFontWeight": "bold", "titleAngle": -90, "titleAlign": "left", "titleBaseline": "alphabetic", "titleX": -69, "titleY": 108.6}}
     }},
    {"data": {"name": "pcs"}, "mark": {"type": "rule", "color": "#000", "strokeWidth": 0.8},
     "encoding": {
       "x": {"datum": 100, "type": "quantitative", "axis": null}
     }},
    {"data": {"name": "redlines"}, "mark": {"type": "rule", "color": "#ff0000", "strokeWidth": 4.5},
     "encoding": {
       "x": {"field": "t", "type": "quantitative", "axis": null},
       "y": {"datum": 5.78, "axis": null},
       "y2": {"datum": -0.46}
     }},
    {"data": {"name": "harrows"}, "mark": {"type": "rule", "color": "#000", "strokeWidth": 2.5},
     "encoding": {
       "x": {"field": "t", "type": "quantitative", "axis": null},
       "x2": {"field": "t2"},
       "y": {"field": "v", "type": "quantitative", "axis": null}
     }},
    {"data": {"name": "hheads"}, "mark": {"type": "point", "filled": true, "opacity": 1, "color": "#000", "size": 256, "strokeWidth": 0},
     "encoding": {
       "x": {"field": "t", "type": "quantitative", "axis": null},
       "y": {"field": "v", "type": "quantitative", "axis": null},
       "shape": {"field": "dir", "type": "nominal", "scale": {"domain": ["right", "left"], "range": ["M1,0L-1,-0.9L-1,0.9Z", "M-1,0L1,-0.9L1,0.9Z"]}, "legend": null}
     }},
    {"data": {"name": "dt"}, "mark": {"type": "text", "font": "Liberation Serif", "fontSize": 30, "fontWeight": "bold", "color": "#000", "align": "center", "baseline": "middle"},
     "encoding": {
       "x": {"field": "t", "type": "quantitative", "axis": null},
       "y": {"field": "v", "type": "quantitative", "axis": null},
       "text": {"field": "label"}
     }}
  ]
},
{
  "width": 579, "height": 246,
  "resolve": {"axis": {"x": "independent", "y": "independent"}},
  "layer": [
    {"data": {"name": "al"}, "mark": {"type": "line", "color": "#ff1a1a", "strokeWidth": 1},
     "encoding": {
       "x": {"field": "t", "type": "quantitative", "scale": {"domain": [0, 139.3], "nice": false, "zero": false}, "axis": {"orient": "bottom", "offset": 5, "values": [0,20,40,60,80,100,120], "tickSize": 5, "domain": true, "domainWidth": 2, "domainColor": "#222", "labelExpr": "'' + datum.value", "labelFont": "Liberation Serif", "labelFontSize": 25, "labelPadding": 5, "labelFlush": true, "labelFlushOffset": 0, "labelOverlap": false, "title": "min", "titleFont": "Liberation Serif", "titleFontSize": 25, "titleFontWeight": "normal", "titleAlign": "center", "titleBaseline": "alphabetic", "titleX": 556, "titleY": 30}},
       "y": {"field": "v", "type": "quantitative", "scale": {"domain": [-988, -64], "nice": false, "zero": false}, "axis": {"orient": "left", "values": [-200,-400,-600,-800], "tickSize": -12, "labelPadding": 17, "labelExpr": "'' + datum.value", "title": null}},
       "detail": {"field": "seg"}
     }},
    {"data": {"name": "al"}, "mark": {"type": "line", "opacity": 0},
     "encoding": {
       "x": {"field": "t", "type": "quantitative", "axis": {"orient": "bottom", "offset": 5, "values": [0,2.5,5,7.5,10,12.5,15,17.5,20,22.5,25,27.5,30,32.5,35,37.5,40,42.5,45,47.5,50,52.5,55,57.5,60,62.5,65,67.5,70,72.5,75,77.5,80,82.5,85,87.5,90,92.5,95,97.5,100,102.5,105,107.5,110,112.5,115,117.5,120,122.5,125,127.5,130,132.5,135,137.5], "tickSize": 3, "labels": false, "title": null}},
       "y": {"field": "v", "type": "quantitative", "axis": {"orient": "left", "values": [-100,-150,-200,-250,-300,-350,-400,-450,-500,-550,-600,-650,-700,-750,-800,-850,-900,-950], "tickSize": -5, "labels": false, "title": null}}
     }},
    {"data": {"name": "al"}, "mark": {"type": "line", "opacity": 0},
     "encoding": {
       "x": {"field": "t", "type": "quantitative", "axis": {"orient": "bottom", "values": [0,10,20,30,40,50,60,70,80,90,100,110,120,130], "tickSize": -6, "labels": false, "title": null}},
       "y": {"field": "v", "type": "quantitative", "axis": {"orient": "right", "values": [-200,-400,-600,-800], "tickSize": -10, "labels": false, "title": null}}
     }},
    {"data": {"name": "al"}, "mark": {"type": "line", "opacity": 0},
     "encoding": {
       "x": {"field": "t", "type": "quantitative", "axis": {"orient": "bottom", "values": [0,2.5,5,7.5,10,12.5,15,17.5,20,22.5,25,27.5,30,32.5,35,37.5,40,42.5,45,47.5,50,52.5,55,57.5,60,62.5,65,67.5,70,72.5,75,77.5,80,82.5,85,87.5,90,92.5,95,97.5,100,102.5,105,107.5,110,112.5,115,117.5,120,122.5,125,127.5,130,132.5,135,137.5], "tickSize": -3, "labels": false, "title": null}},
       "y": {"field": "v", "type": "quantitative", "axis": {"orient": "right", "values": [-100,-150,-200,-250,-300,-350,-400,-450,-500,-550,-600,-650,-700,-750,-800,-850,-900,-950], "tickSize": -5, "labels": false, "title": null}}
     }},
    {"data": {"name": "al"}, "mark": {"type": "line", "opacity": 0},
     "encoding": {
       "x": {"field": "t", "type": "quantitative", "axis": {"orient": "top", "values": [0,10,20,30,40,50,60,70,80,90,100,110,120,130], "tickSize": -6, "labels": false, "title": null}},
       "y": {"field": "v", "type": "quantitative", "axis": {"orient": "left", "labels": false, "ticks": false, "title": "AL,  nT", "titleFont": "Liberation Serif", "titleFontSize": 27, "titleFontWeight": "bold", "titleAngle": -90, "titleAlign": "left", "titleBaseline": "alphabetic", "titleX": -69, "titleY": 176.6}}
     }},
    {"data": {"name": "al"}, "mark": {"type": "line", "opacity": 0},
     "encoding": {
       "x": {"field": "t", "type": "quantitative", "axis": {"orient": "top", "values": [0,2.5,5,7.5,10,12.5,15,17.5,20,22.5,25,27.5,30,32.5,35,37.5,40,42.5,45,47.5,50,52.5,55,57.5,60,62.5,65,67.5,70,72.5,75,77.5,80,82.5,85,87.5,90,92.5,95,97.5,100,102.5,105,107.5,110,112.5,115,117.5,120,122.5,125,127.5,130,132.5,135,137.5], "tickSize": -3, "labels": false, "title": null}},
       "y": {"field": "v", "type": "quantitative", "axis": null}
     }},
    {"data": {"name": "al"}, "mark": {"type": "rule", "color": "#000", "strokeWidth": 0.8},
     "encoding": {
       "x": {"datum": 100, "type": "quantitative", "axis": null}
     }},
    {"data": {"name": "tri"}, "mark": {"type": "point", "filled": true, "opacity": 1, "color": "#000", "shape": "triangle-up", "size": 256, "strokeWidth": 0},
     "encoding": {
       "x": {"field": "t", "type": "quantitative", "axis": null},
       "y": {"field": "v", "type": "quantitative", "axis": null}
     }},
    {"data": {"name": "redlines"}, "mark": {"type": "rule", "color": "#ff0000", "strokeWidth": 4.5},
     "encoding": {
       "x": {"field": "t", "type": "quantitative", "axis": null},
       "y": {"datum": -64, "axis": null},
       "y2": {"datum": -973}
     }}
  ]
}
]
}
